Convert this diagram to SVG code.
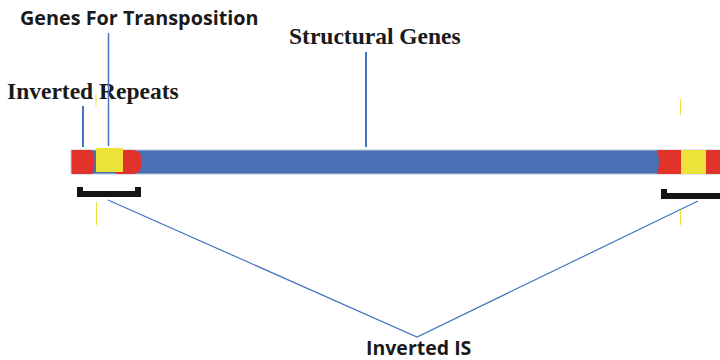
<svg xmlns="http://www.w3.org/2000/svg" width="720" height="360" viewBox="0 0 720 360">
  <style>
    .sans { font-family: "Open Sans", "Liberation Sans", sans-serif; font-weight: bold; fill: #1a1a1a; }
    .serif { font-family: "Liberation Serif", "Times New Roman", serif; font-weight: bold; fill: #1a1a1a; }
    .lead { stroke: #4472c4; fill: none; }
    .tick { stroke: #f0e040; stroke-width: 1; }
    .red { fill: #e2332b; }
    .yellow { fill: #ede23a; }
    .bracket { fill: none; stroke: #141414; stroke-width: 6; stroke-linejoin: miter; }
  </style>

  <!-- transposon body -->
  <g id="transposon">
    <rect x="71" y="150" width="652" height="24" fill="#4a6fb5" stroke="#b8c8e0" stroke-width="1"/>
    <!-- left inverted repeat + transposase genes -->
    <path class="red" d="M72,150 H92 Q97,162 92,174 H72 Z"/>
    <path class="red" d="M116,150 H132 Q141,150 141,158 V166 Q141,174 132,174 H116 Z"/>
    <rect class="yellow" x="96" y="148" width="27" height="24"/>
    <!-- right inverted repeat -->
    <path class="red" d="M657,150 H681 V174 H657 Q661,162 657,150 Z"/>
    <rect class="yellow" x="681" y="150" width="25" height="24"/>
    <rect class="red" x="706" y="150" width="14" height="24"/>
  </g>

  <!-- IS brackets -->
  <g id="bracket-left">
    <path class="bracket" d="M80,187 V194 H138 V187"/>
  </g>
  <g id="bracket-right">
    <path class="bracket" d="M664,189 V196 H722"/>
  </g>

  <!-- labels -->
  <g id="label-transposition">
    <text class="sans" x="20" y="25" font-size="19.8">Genes For Transposition</text>
  </g>
  <g id="label-repeats">
    <text class="serif" x="7" y="99" font-size="23.5">Inverted Repeats</text>
  </g>
  <g id="label-structural">
    <text class="serif" x="289" y="44" font-size="23.5">Structural Genes</text>
  </g>
  <g id="label-inverted-is">
    <text class="sans" x="366" y="355" font-size="19.5">Inverted IS</text>
  </g>

  <!-- leader lines -->
  <g id="connectors">
    <line class="lead" x1="83" y1="106" x2="83" y2="147" stroke-width="2"/>
    <line class="lead" x1="108.5" y1="33" x2="108.5" y2="146" stroke-width="1.5"/>
    <line class="lead" x1="366" y1="52" x2="366" y2="147" stroke-width="2"/>
    <polyline class="lead" points="108,200 417,337 698,201" stroke-width="1.2"/>
    <!-- faint guide ticks -->
    <line class="tick" x1="96" y1="94" x2="96" y2="106"/>
    <line class="tick" x1="96.5" y1="202" x2="96.5" y2="225"/>
    <line class="tick" x1="680.5" y1="99" x2="680.5" y2="115"/>
    <line class="tick" x1="680.5" y1="210" x2="680.5" y2="225"/>
  </g>
</svg>
